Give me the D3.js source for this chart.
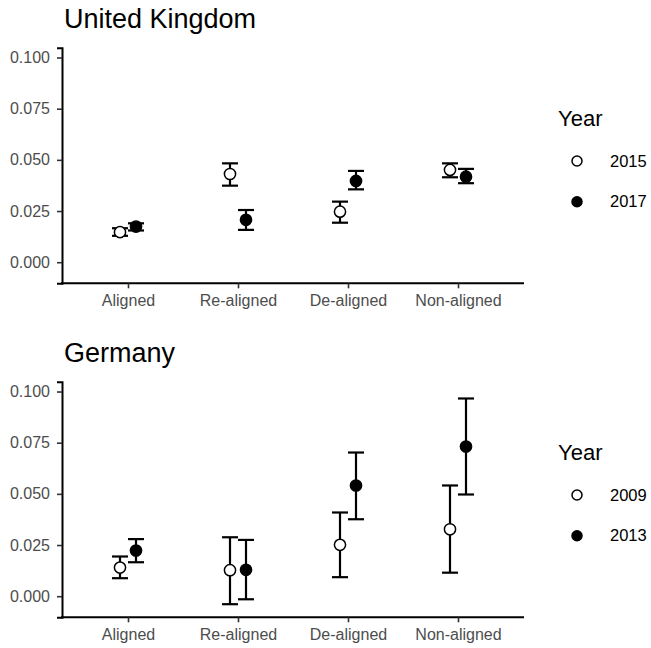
<!DOCTYPE html>
<html>
<head>
<meta charset="utf-8">
<script src="https://cdn.jsdelivr.net/npm/d3@7"></script>
<style>
  html, body { margin: 0; padding: 0; background: #fff; }
  svg { display: block; font-family: "Liberation Sans", Arial, sans-serif; }
</style>
</head>
<body>
<svg id="chart" width="651" height="648"></svg>
<script>
// Alignment categories shared by both countries
const categories = ["Aligned", "Re-aligned", "De-aligned", "Non-aligned"];
const yTicks = [0, 0.025, 0.05, 0.075, 0.1];

// United Kingdom: point estimates with lower / upper bounds
const ukYears = ["2015", "2017"];
const ukEst2015 = [0.0147, 0.0431, 0.0247, 0.0451];
const ukLo2015  = [0.0129, 0.0374, 0.0193, 0.0415];
const ukHi2015  = [0.0166, 0.0483, 0.0296, 0.0483];
const ukEst2017 = [0.0174, 0.0207, 0.0397, 0.0418];
const ukLo2017  = [0.0155, 0.0158, 0.0356, 0.0386];
const ukHi2017  = [0.0190, 0.0255, 0.0446, 0.0456];

// Germany: point estimates with lower / upper bounds
const deYears = ["2009", "2013"];
const deEst2009 = [0.0140, 0.0127, 0.0251, 0.0327];
const deLo2009  = [0.0088, -0.0039, 0.0093, 0.0115];
const deHi2009  = [0.0194, 0.0288, 0.0409, 0.0541];
const deEst2013 = [0.0223, 0.0129, 0.0541, 0.0731];
const deLo2013  = [0.0166, -0.0015, 0.0376, 0.0497];
const deHi2013  = [0.0279, 0.0275, 0.0702, 0.0966];

const panels = [
  { title: "United Kingdom", top: 0, years: ukYears,
    series: [
      { est: ukEst2015, lo: ukLo2015, hi: ukHi2015, filled: false },
      { est: ukEst2017, lo: ukLo2017, hi: ukHi2017, filled: true }
    ] },
  { title: "Germany", top: 334, years: deYears,
    series: [
      { est: deEst2009, lo: deLo2009, hi: deHi2009, filled: false },
      { est: deEst2013, lo: deLo2013, hi: deHi2013, filled: true }
    ] }
];

const svg = d3.select("#chart");
const plotLeft = 62, plotRight = 524, plotTop = 47.7, plotBottom = 283.3;
const dodge = 8, capHalf = 8, pointR = 5.6;
const FONT = "Liberation Sans, Arial, sans-serif";

panels.forEach(p => {
  const g = svg.append("g").attr("transform", `translate(0,${p.top})`);

  // Discrete x axis with 0.6-unit padding on each side
  const x = d3.scalePoint().domain(categories)
    .range([plotLeft, plotRight]).padding(0.6);
  const y = d3.scaleLinear().domain([-0.0103, 0.1048])
    .range([plotBottom, plotTop]);

  // Title
  g.append("text").attr("x", 64).attr("y", 28)
    .attr("font-size", 27).attr("fill", "#000").text(p.title);

  // Y axis
  const yAxis = g.append("g").attr("transform", `translate(${plotLeft},0)`)
    .call(d3.axisLeft(y).tickValues(yTicks).tickFormat(d3.format(".3f"))
      .tickSizeOuter(0).tickSize(5).tickPadding(7));
  yAxis.select(".domain").attr("stroke", "#000").attr("stroke-width", 2);
  yAxis.selectAll(".tick line").attr("stroke", "#333").attr("stroke-width", 1.6);
  yAxis.selectAll(".tick text").attr("font-size", 16).attr("fill", "#4d4d4d")
    .attr("font-family", FONT);

  // X axis
  const xAxis = g.append("g").attr("transform", `translate(0,${plotBottom})`)
    .call(d3.axisBottom(x).tickSizeOuter(0).tickSize(5).tickPadding(6.5));
  xAxis.select(".domain").attr("stroke", "#000").attr("stroke-width", 2)
    .attr("d", `M${plotLeft - 1},0H${plotRight}`);
  xAxis.selectAll(".tick line").attr("stroke", "#333").attr("stroke-width", 1.6);
  xAxis.selectAll(".tick text").attr("font-size", 16).attr("fill", "#4d4d4d")
    .attr("font-family", FONT);

  // Error bars and points, dodged by year
  p.series.forEach((s, si) => {
    const off = si === 0 ? -dodge : dodge;
    const rows = categories.map((c, i) => ({ c, est: s.est[i], lo: s.lo[i], hi: s.hi[i] }));
    const eb = g.append("g").attr("stroke", "#000").attr("stroke-width", 2.2).attr("fill", "none");
    rows.forEach(r => {
      const cx = x(r.c) + off;
      eb.append("line").attr("x1", cx).attr("x2", cx).attr("y1", y(r.lo)).attr("y2", y(r.hi));
      eb.append("line").attr("x1", cx - capHalf).attr("x2", cx + capHalf).attr("y1", y(r.lo)).attr("y2", y(r.lo));
      eb.append("line").attr("x1", cx - capHalf).attr("x2", cx + capHalf).attr("y1", y(r.hi)).attr("y2", y(r.hi));
    });
    g.append("g").selectAll("circle").data(rows).join("circle")
      .attr("cx", d => x(d.c) + off).attr("cy", d => y(d.est)).attr("r", pointR)
      .attr("fill", s.filled ? "#000" : "#fff").attr("stroke", "#000").attr("stroke-width", 1.5);
  });

  // Legend
  const lg = g.append("g");
  lg.append("text").attr("x", 558).attr("y", 126).attr("font-size", 22).attr("fill", "#000").text("Year");
  p.years.forEach((yr, i) => {
    const cy = 161 + i * 40.7;
    lg.append("circle").attr("cx", 577).attr("cy", cy).attr("r", 5)
      .attr("fill", i === 1 ? "#000" : "#fff").attr("stroke", "#000").attr("stroke-width", 1.5);
    lg.append("text").attr("x", 610).attr("y", cy).attr("dy", "0.35em")
      .attr("font-size", 16.5).attr("fill", "#000").text(yr);
  });
});
</script>
</body>
</html>
